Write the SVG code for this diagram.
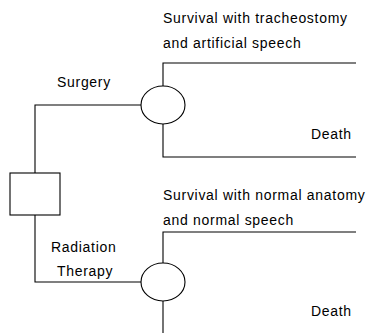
<svg xmlns="http://www.w3.org/2000/svg" width="370" height="333" viewBox="0 0 370 333">
  <style>
    .ln { fill: none; stroke: #000; stroke-width: 1.1; }
    .nd { fill: #fff; stroke: #000; stroke-width: 1.1; }
    text { font-family: "Liberation Sans", Arial, sans-serif; font-size: 14px; letter-spacing: 0.7px; fill: #000; }
  </style>
  <rect width="370" height="333" fill="#fff"/>

  <!-- branches -->
  <g id="connectors">
    <polyline class="ln" points="141,105 35,105 35,173"/>
    <polyline class="ln" points="35,215 35,282 141,282"/>
    <polyline class="ln" points="163,86 163,63 356,63"/>
    <polyline class="ln" points="163,124 163,157 356,157"/>
    <polyline class="ln" points="163,263 163,232 356,232"/>
    <polyline class="ln" points="163,301 163,333"/>
  </g>

  <!-- decision node -->
  <g id="decision">
    <rect class="nd" x="10" y="173" width="50" height="42"/>
  </g>

  <!-- chance node: surgery -->
  <g id="chance-surgery">
    <ellipse class="nd" cx="163" cy="105" rx="22" ry="19"/>
  </g>

  <!-- chance node: radiation therapy -->
  <g id="chance-radiation">
    <ellipse class="nd" cx="163" cy="282" rx="22" ry="19"/>
  </g>

  <!-- labels -->
  <g id="labels">
    <text x="57" y="87">Surgery</text>
    <text x="163" y="23">Survival with tracheostomy</text>
    <text x="163" y="48">and artificial speech</text>
    <text x="311" y="139">Death</text>
    <text x="51" y="252">Radiation</text>
    <text x="57" y="276">Therapy</text>
    <text x="163" y="200">Survival with normal anatomy</text>
    <text x="163" y="225">and normal speech</text>
    <text x="311" y="316">Death</text>
  </g>
</svg>
